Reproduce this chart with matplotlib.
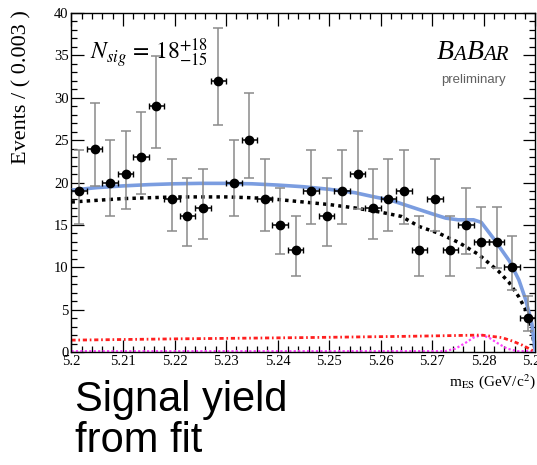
import numpy as np
import matplotlib.pyplot as plt
from matplotlib.ticker import MultipleLocator

plt.rcParams['mathtext.fontset'] = 'stix'

# m_ES histogram: 30 bins of 0.003 GeV/c^2 from 5.20 to 5.29
bin_edges = np.linspace(5.20, 5.29, 31)
events = np.array([19, 24, 20, 21, 23, 29, 18, 16, 17, 32,
                   20, 25, 18, 15, 12, 19, 16, 19, 21, 17,
                   18, 19, 12, 18, 12, 15, 13, 13, 10, 4])

# fit projections (m_ES, events / 0.003)
total_m = [5.200, 5.205, 5.210, 5.215, 5.220, 5.225, 5.230, 5.235, 5.240, 5.245,
           5.250, 5.255, 5.258, 5.262, 5.266, 5.270, 5.2726, 5.275, 5.278, 5.2795,
           5.2805, 5.282, 5.2835, 5.285, 5.2868, 5.2881, 5.2893, 5.290]
total_y = [19.1, 19.4, 19.6, 19.75, 19.85, 19.9, 19.9, 19.85, 19.7, 19.5,
           19.2, 18.8, 18.4, 17.9, 17.1, 16.3, 15.8, 15.6, 15.6, 15.3,
           14.5, 13.3, 12.0, 10.7, 8.5, 6.2, 3.4, 0.0]

bkg_m = [5.200, 5.205, 5.210, 5.215, 5.220, 5.225, 5.230, 5.235, 5.240, 5.245,
         5.250, 5.255, 5.260, 5.264, 5.2675, 5.2713, 5.2752, 5.279, 5.2829, 5.2849,
         5.2868, 5.2881, 5.2893, 5.290]
bkg_y = [17.7, 17.9, 18.1, 18.2, 18.3, 18.3, 18.3, 18.2, 18.0, 17.7,
         17.4, 17.0, 16.5, 16.0, 14.8, 14.0, 12.9, 11.5, 9.5, 8.2,
         6.5, 5.0, 2.6, 0.0]

bbkg_m = [5.200, 5.220, 5.245, 5.265, 5.275, 5.2795, 5.2835, 5.2855, 5.2875, 5.290]
bbkg_y = [1.4, 1.55, 1.7, 1.85, 1.95, 2.0, 1.7, 1.3, 0.8, 0.0]

sig_m = [5.200, 5.2725, 5.2745, 5.2765, 5.278, 5.2795, 5.281, 5.2825, 5.2845, 5.2865, 5.290]
sig_y = [0.1, 0.1, 0.4, 1.1, 1.7, 2.0, 1.7, 1.1, 0.4, 0.1, 0.1]

xticks = [5.20, 5.21, 5.22, 5.23, 5.24, 5.25, 5.26, 5.27, 5.28, 5.29]
xtick_labels = ['5.2', '5.21', '5.22', '5.23', '5.24', '5.25', '5.26', '5.27', '5.28', '5.29']
yticks = [0, 5, 10, 15, 20, 25, 30, 35, 40]

centres = 0.5 * (bin_edges[:-1] + bin_edges[1:])
half_bin = 0.5 * (bin_edges[1] - bin_edges[0])
err_lo = np.sqrt(events + 0.25) - 0.5
err_hi = np.sqrt(events + 0.25) + 0.5

fig = plt.figure(figsize=(5.37, 4.65), dpi=100)
ax = fig.add_axes([0.133, 0.243, 0.864, 0.729])

ax.plot(sig_m, sig_y, color='#ff44ff', lw=1.6, ls=(0, (1, 1)), zorder=2)
ax.plot(bbkg_m, bbkg_y, color='#ff2020', lw=2, ls=(0, (1.5, 1, 0.6, 1)), zorder=2)
ax.plot(bkg_m, bkg_y, color='black', lw=2.5, ls=(0, (1, 1.2)), zorder=3)
ax.plot(total_m, total_y, color='#7b9de0', lw=2.6, zorder=3)

# data points: grey vertical errors, black bin-width bars
ax.errorbar(centres, events, yerr=[err_lo, err_hi], fmt='none', ecolor='#8a8a8a',
            elinewidth=1.1, capsize=3.5, capthick=1.1, zorder=4)
ax.errorbar(centres, events, xerr=half_bin, fmt='o', color='black', ms=6,
            elinewidth=1.1, capsize=2.5, capthick=1.0, zorder=5)

ax.set_xlim(5.20, 5.29)
ax.set_ylim(0, 40)
ax.set_xticks(xticks, xtick_labels)
ax.set_yticks(yticks)
ax.xaxis.set_minor_locator(MultipleLocator(0.002))
ax.yaxis.set_minor_locator(MultipleLocator(1))
ax.tick_params(which='both', direction='in', top=True, right=True, width=0.9)
ax.tick_params(which='major', length=9, pad=2)
ax.tick_params(which='minor', length=4.5)
for lab in ax.get_xticklabels() + ax.get_yticklabels():
    lab.set_family('Liberation Serif')
    lab.set_fontsize(10.5)
for sp in ax.spines.values():
    sp.set_linewidth(1.0)

ax.set_ylabel('Events / ( 0.003 )', family='Liberation Serif', fontsize=16, loc='top')
ax.yaxis.set_label_coords(-0.085, 1.01)
ax.set_xlabel(r'm$_{\rm ES}$ (GeV/c$^{2}$)', family='Liberation Serif', fontsize=11,
              loc='right', labelpad=3)

ax.text(0.04, 0.861, r'$N_{sig}\,=\,18^{+18}_{-15}$', transform=ax.transAxes,
        fontsize=17, va='baseline', ha='left')

# BaBar logo in italic small capitals
t = ax.text(0.787, 0.864, 'B', transform=ax.transAxes, family='Liberation Serif',
            style='italic', fontsize=20, va='baseline', ha='left')
for piece, size in [('A', 15), ('B', 20), ('AR', 15)]:
    t = ax.annotate(piece, xy=(1, 0), xycoords=t, family='Liberation Serif',
                    style='italic', fontsize=size, va='bottom', ha='left')
ax.text(0.867, 0.802, 'preliminary', transform=ax.transAxes, color='#606060',
        family='Liberation Sans', fontsize=9.5, ha='center', va='center')

fig.text(0.14, 0.183, 'Signal yield\nfrom fit', family='Liberation Sans',
         fontsize=30, va='top', ha='left', linespacing=1.05)

fig.savefig('out.png', dpi=100)
